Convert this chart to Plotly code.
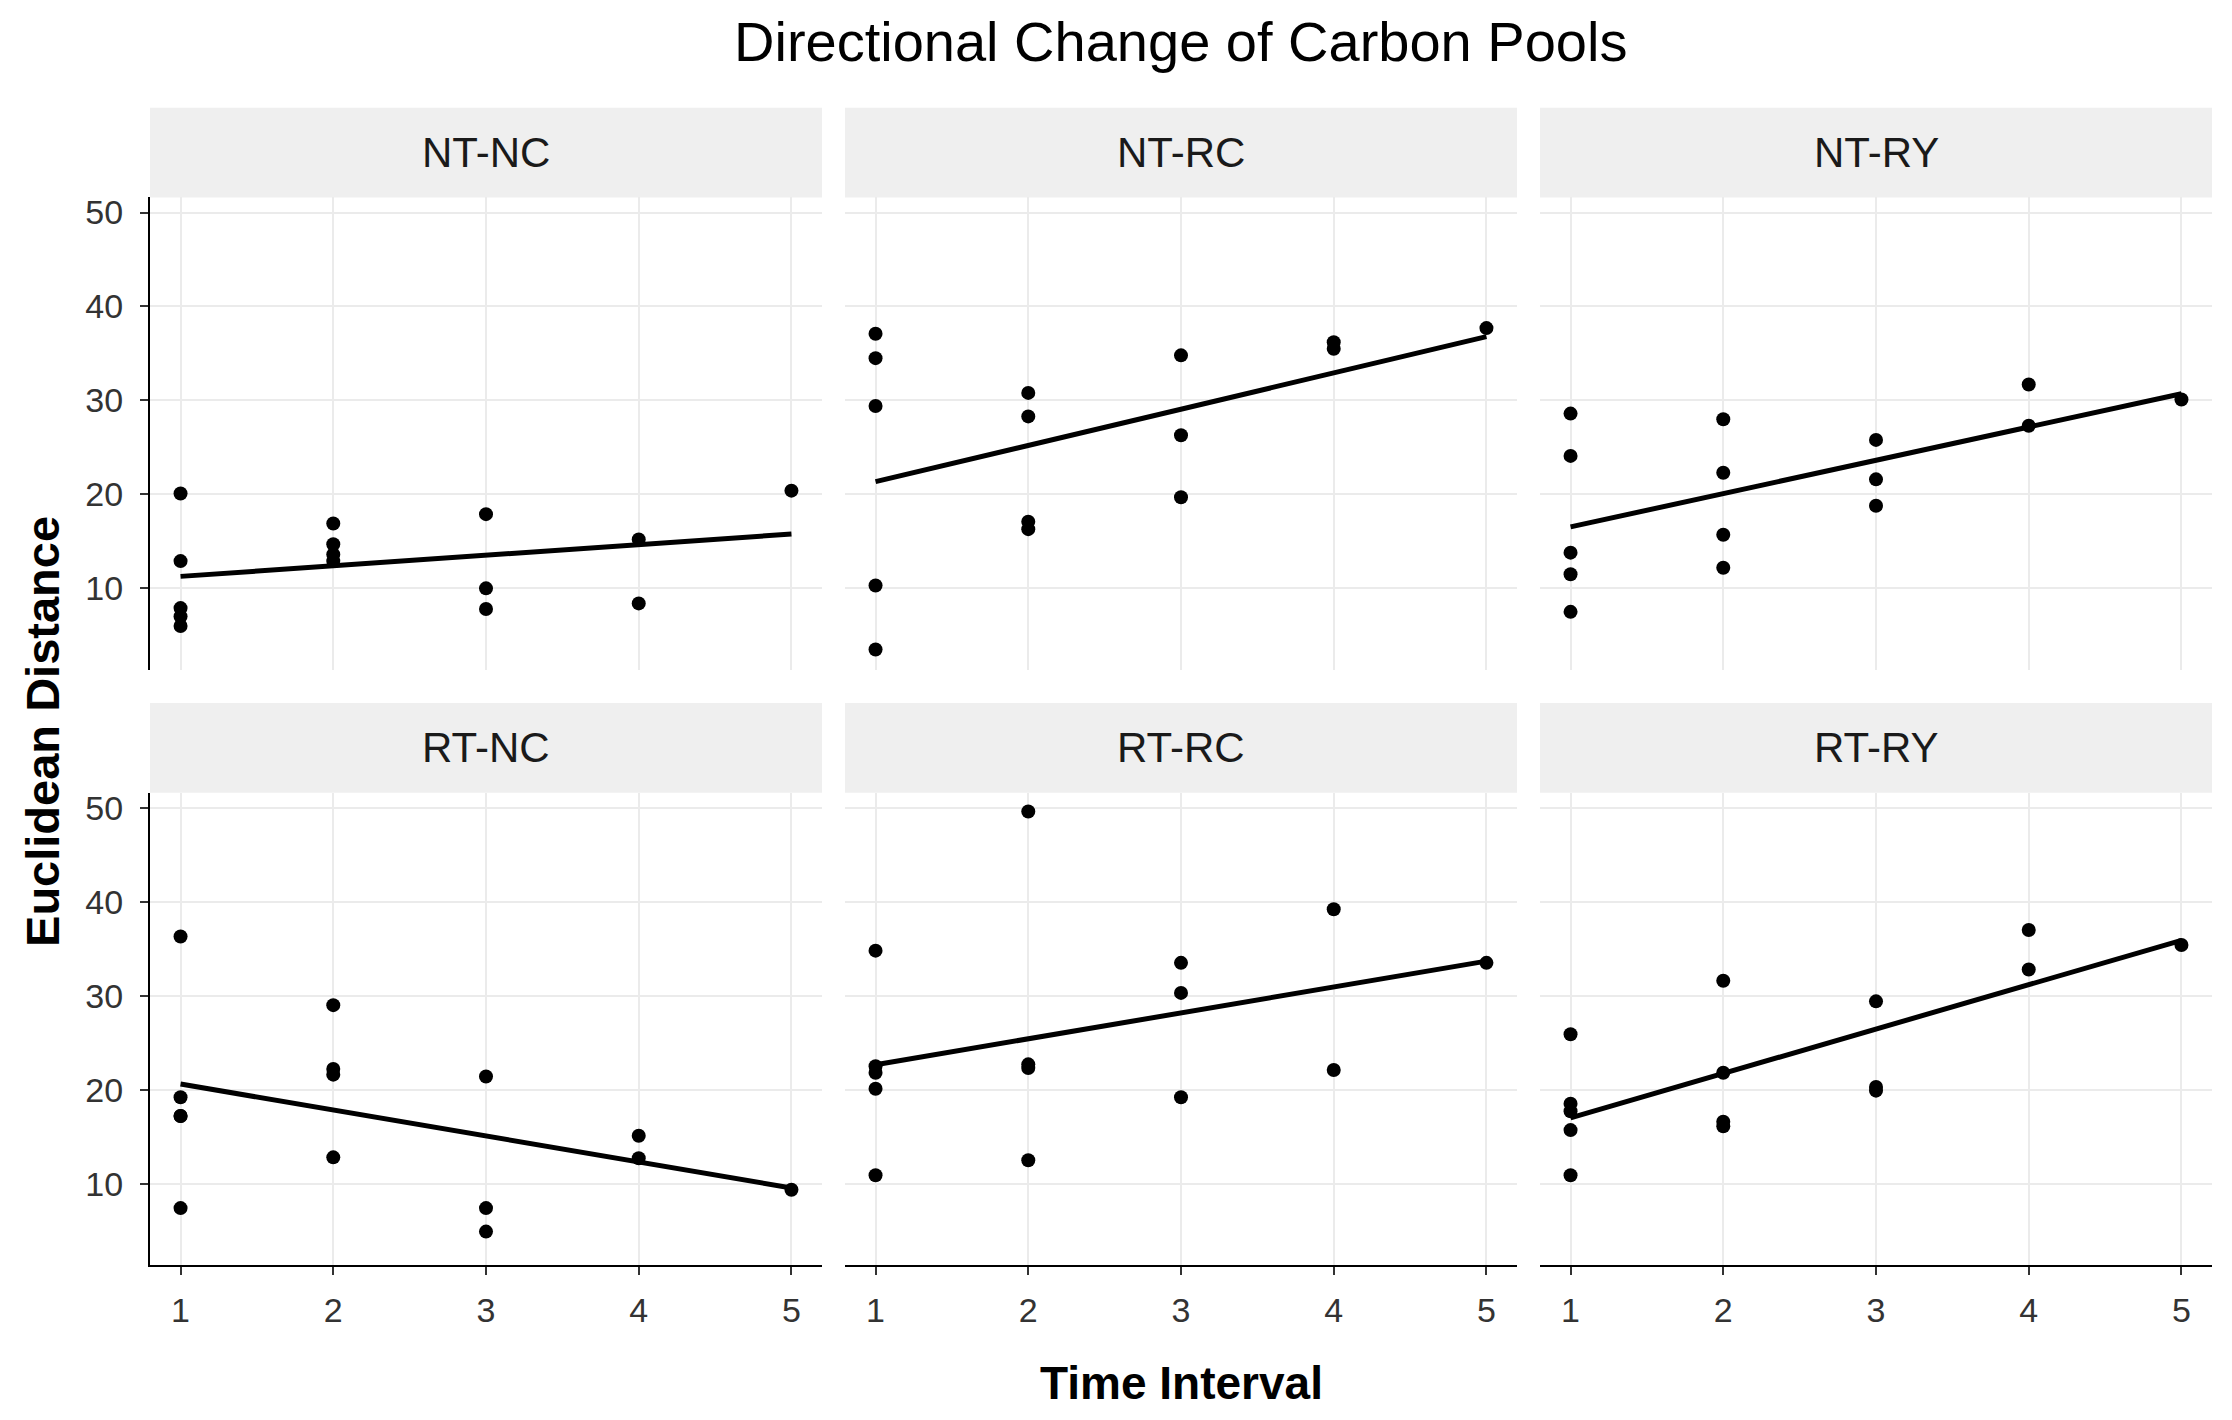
import numpy as np
import plotly.graph_objects as go

# ---------------- data ----------------
panels = ["NT-NC", "NT-RC", "NT-RY", "RT-NC", "RT-RC", "RT-RY"]

time_interval = [1, 1, 1, 1, 1, 2, 2, 2, 2, 3, 3, 3, 4, 4, 5]

dist_nt_nc = [20.1, 12.9, 7.9, 7.0, 6.0, 16.9, 14.7, 13.6, 12.9, 17.9, 10.0, 7.8, 15.2, 8.4, 20.4]
dist_nt_rc = [37.1, 34.5, 29.4, 10.3, 3.5, 30.8, 28.3, 17.1, 16.3, 34.8, 26.3, 19.7, 36.2, 35.5, 37.7]
dist_nt_ry = [28.6, 24.1, 13.8, 11.5, 7.5, 28.0, 22.3, 15.7, 12.2, 25.8, 21.6, 18.8, 31.7, 27.3, 30.1]
dist_rt_nc = [36.3, 19.2, 17.2, 17.2, 7.4, 29.0, 22.2, 21.6, 12.8, 21.4, 7.4, 4.9, 15.1, 12.7, 9.35]
dist_rt_rc = [34.8, 22.5, 21.8, 20.1, 10.9, 49.6, 22.7, 22.3, 12.5, 33.5, 30.3, 19.2, 39.2, 22.1, 33.5]
dist_rt_ry = [25.9, 18.5, 17.7, 15.7, 10.9, 31.6, 21.8, 16.6, 16.1, 29.4, 20.3, 19.9, 37.0, 32.8, 35.4]

panel_values = [dist_nt_nc, dist_nt_rc, dist_nt_ry, dist_rt_nc, dist_rt_rc, dist_rt_ry]

x_ticks = [1, 2, 3, 4, 5]
y_ticks = [10, 20, 30, 40, 50]

# ---------------- layout geometry (pixels, page coordinates) ----------------
OFF = 8                      # default body margin of the html page
W, H = 2232 - 2 * OFF, 1420 - 2 * OFF
col_px = [(150, 822), (845, 1517), (1540, 2212)]
row_plot_px = [(194, 668), (791, 1265)]
row_strip_px = [(104, 194), (701, 791)]

def px(p):
    return (p - OFF) / W

def py(p):
    return 1 - (p - OFF) / H

FONT = "Liberation Sans, Arial, sans-serif"
GRID = "#EBEBEB"
TICKC = "#333333"

fig = go.Figure()
layout_axes = {}
shapes = []
annotations = []

for i, name in enumerate(panels):
    r, c = divmod(i, 3)
    n = i + 1
    xa = "x" if n == 1 else f"x{n}"
    ya = "y" if n == 1 else f"y{n}"
    xs = np.array(time_interval, dtype=float)
    ys = np.array(panel_values[i], dtype=float)

    fig.add_trace(go.Scatter(
        x=xs, y=ys, mode="markers", xaxis=xa, yaxis=ya,
        marker=dict(color="black", size=14), showlegend=False, hoverinfo="x+y"))

    # linear fit (as geom_smooth(method = "lm", se = FALSE))
    slope, intercept = np.polyfit(xs, ys, 1)
    xl = np.array([min(x_ticks), max(x_ticks)], dtype=float)
    fig.add_trace(go.Scatter(
        x=xl, y=slope * xl + intercept, mode="lines", xaxis=xa, yaxis=ya,
        line=dict(color="black", width=5), showlegend=False, hoverinfo="skip"))

    cx0, cx1 = col_px[c]
    py0, py1 = row_plot_px[r]
    bottom = r == 1
    left = c == 0

    layout_axes["xaxis" if n == 1 else f"xaxis{n}"] = dict(
        domain=[px(cx0), px(cx1)], anchor=ya, range=[0.8, 5.2],
        tickmode="array", tickvals=x_ticks, ticktext=[str(v) for v in x_ticks],
        showgrid=True, gridcolor=GRID, gridwidth=2, zeroline=False,
        showline=bottom, linecolor="black", linewidth=2,
        ticks="outside" if bottom else "", ticklen=8, tickwidth=2, tickcolor=TICKC,
        showticklabels=bottom, ticklabelstandoff=6,
        tickfont=dict(family=FONT, size=34, color="#333333"))
    layout_axes["yaxis" if n == 1 else f"yaxis{n}"] = dict(
        domain=[py(py1), py(py0)], anchor=xa, range=[1.3, 51.6],
        tickmode="array", tickvals=y_ticks, ticktext=[str(v) for v in y_ticks],
        showgrid=True, gridcolor=GRID, gridwidth=2, zeroline=False,
        showline=left, linecolor="black", linewidth=2,
        ticks="outside" if left else "", ticklen=8, tickwidth=2, tickcolor=TICKC,
        showticklabels=left, ticklabelstandoff=10,
        tickfont=dict(family=FONT, size=34, color="#333333"))

    # facet strip
    sy0, sy1 = row_strip_px[r]
    shapes.append(dict(type="rect", xref="paper", yref="paper",
                       x0=px(cx0), x1=px(cx1), y0=py(sy1), y1=py(sy0),
                       fillcolor="#EFEFEF", line=dict(width=0), layer="below"))
    annotations.append(dict(text=name, xref="paper", yref="paper",
                            x=px((cx0 + cx1) / 2), y=py((sy0 + sy1) / 2),
                            xanchor="center", yanchor="middle", showarrow=False,
                            font=dict(family=FONT, size=42, color="#1A1A1A")))

# titles
annotations.append(dict(text="Directional Change of Carbon Pools", xref="paper", yref="paper",
                        x=px(1180), y=py(38), xanchor="center", yanchor="middle",
                        showarrow=False, font=dict(family=FONT, size=56, color="black")))
annotations.append(dict(text="<b>Time Interval</b>", xref="paper", yref="paper",
                        x=px(1181), y=py(1383), xanchor="center", yanchor="middle",
                        showarrow=False, font=dict(family=FONT, size=46, color="black")))
annotations.append(dict(text="<b>Euclidean Distance</b>", xref="paper", yref="paper",
                        x=px(43), y=py(730), xanchor="center", yanchor="middle",
                        textangle=-90, showarrow=False,
                        font=dict(family=FONT, size=47, color="black")))

fig.update_layout(
    width=W, height=H, margin=dict(l=0, r=0, t=0, b=0),
    paper_bgcolor="white", plot_bgcolor="white",
    shapes=shapes, annotations=annotations, showlegend=False,
    **layout_axes)

fig.write_html("out.html")
